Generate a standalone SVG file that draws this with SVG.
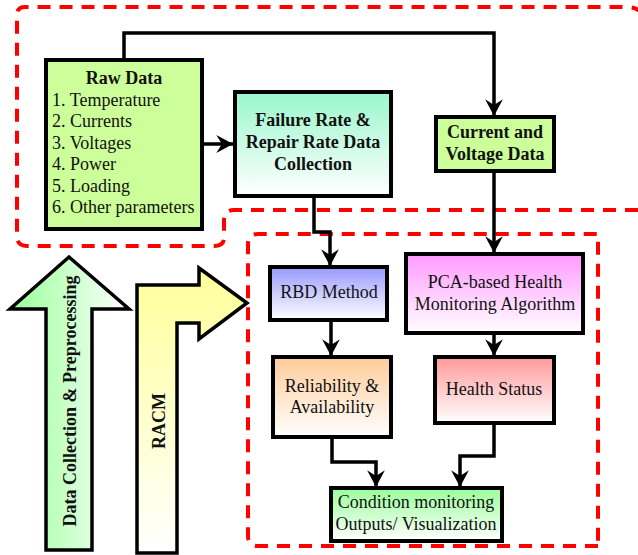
<svg xmlns="http://www.w3.org/2000/svg" width="638" height="555" viewBox="0 0 638 555">
<style>
.box{stroke:#000;stroke-width:4}
.t{font-family:'Liberation Serif',serif;font-size:18px;fill:#111}
.b{font-weight:bold}
.c{text-anchor:middle}
.con{fill:none;stroke:#000;stroke-width:3.5}
.dash{fill:none;stroke:#ff0000;stroke-width:4;stroke-dasharray:13 9}
</style>
<defs>
<marker id="ah" markerUnits="userSpaceOnUse" markerWidth="20" markerHeight="20" viewBox="-16 -9 18 18" refX="0" refY="0" orient="auto">
<path d="M0,0 L-15,-8 L-10,0 L-15,8 Z" fill="#000"/>
</marker>
<linearGradient id="gFail" x1="0" y1="0" x2="0" y2="1"><stop offset="0" stop-color="#99f7cc"/><stop offset="1" stop-color="#ffffff"/></linearGradient>
<linearGradient id="gRbd" x1="0" y1="0" x2="0" y2="1"><stop offset="0" stop-color="#9999ff"/><stop offset="1" stop-color="#ffffff"/></linearGradient>
<linearGradient id="gPca" x1="0" y1="0" x2="0" y2="1"><stop offset="0" stop-color="#ff99ff"/><stop offset="1" stop-color="#ffffff"/></linearGradient>
<linearGradient id="gRel" x1="0" y1="0" x2="0" y2="1"><stop offset="0" stop-color="#ffcc99"/><stop offset="1" stop-color="#ffffff"/></linearGradient>
<linearGradient id="gHs" x1="0" y1="0" x2="0" y2="1"><stop offset="0" stop-color="#ff9999"/><stop offset="1" stop-color="#ffffff"/></linearGradient>
<linearGradient id="gCond" x1="0" y1="0" x2="0" y2="1"><stop offset="0" stop-color="#99ff99"/><stop offset="1" stop-color="#ffffff"/></linearGradient>
<linearGradient id="gDc" x1="0" y1="0" x2="1" y2="0"><stop offset="0" stop-color="#99ff99"/><stop offset="1" stop-color="#ffffff"/></linearGradient>
<linearGradient id="gRacm" x1="0" y1="0" x2="0" y2="1"><stop offset="0" stop-color="#ffff99"/><stop offset="1" stop-color="#ffffff"/></linearGradient>
</defs>
<rect width="638" height="555" fill="#fff"/>

<g id="regions">
<path class="dash" d="M638,210 L234,210 Q224,210 224,220 L224,238 Q224,246 214,246 L27,246 Q17,246 17,236 L17,15 Q17,7 25,7 L626,7 Q645,7 645,25 L645,200"/>
<path class="dash" d="M598,546 L258,546 Q248,546 248,536 L248,244 Q248,234 258,234 L598,234 L598,546"/>
</g>

<g id="bigArrows" font-family="Liberation Serif, serif">
<g id="dataCollectionArrow">
<path d="M46,550 L46,309 L10,309 L69,257 L129,309 L92,309 L92,550 Z" fill="url(#gDc)" stroke="#000" stroke-width="3.5"/>
<text class="t b c" transform="translate(76,401) rotate(-90)">Data Collection &amp; Preprocessing</text>
</g>
<g id="racmArrow">
<path d="M137,553 L137,285 L199,285 L199,268 L247,303 L199,339 L199,323 L177,323 L177,553 Z" fill="url(#gRacm)" stroke="#000" stroke-width="3.5"/>
<text class="t b c" transform="translate(165,421) rotate(-90)">RACM</text>
</g>
</g>

<g id="connectors">
<path class="con" d="M124,60 L124,33 L494,33 L494,116" marker-end="url(#ah)"/>
<path class="con" d="M202,144 L233,144" marker-end="url(#ah)"/>
<path class="con" d="M314,196 L314,232 L330,232 L330,266" marker-end="url(#ah)"/>
<path class="con" d="M494,171 L494,253" marker-end="url(#ah)"/>
<path class="con" d="M331,320 L331,356" marker-end="url(#ah)"/>
<path class="con" d="M494,333 L494,356" marker-end="url(#ah)"/>
<path class="con" d="M332,437 L332,462 L376,462 L376,487" marker-end="url(#ah)"/>
<path class="con" d="M494,423 L494,456 L460,456 L460,487" marker-end="url(#ah)"/>
</g>

<g id="rawData" font-family="Liberation Serif, serif">
<rect class="box" x="46" y="60" width="156" height="169" fill="#ccff99"/>
<text class="t b c" x="124" y="84">Raw Data</text>
<text class="t" x="52" y="106">1. Temperature</text>
<text class="t" x="52" y="127">2. Currents</text>
<text class="t" x="52" y="149">3. Voltages</text>
<text class="t" x="52" y="170">4. Power</text>
<text class="t" x="52" y="192">5. Loading</text>
<text class="t" x="52" y="213">6. Other parameters</text>
</g>

<g id="failureRate">
<rect class="box" x="235" y="92" width="156" height="104" fill="url(#gFail)"/>
<text class="t b c" x="313" y="126">Failure Rate &amp;</text>
<text class="t b c" x="313" y="148">Repair Rate Data</text>
<text class="t b c" x="313" y="170">Collection</text>
</g>

<g id="currentVoltage">
<rect class="box" x="436" y="117" width="118" height="54" fill="#ccff99"/>
<text class="t b c" x="495" y="138">Current and</text>
<text class="t b c" x="495" y="160">Voltage Data</text>
</g>

<g id="rbd">
<rect class="box" x="270" y="267" width="117" height="53" fill="url(#gRbd)"/>
<text class="t c" x="329" y="298">RBD Method</text>
</g>

<g id="pca">
<rect class="box" x="406" y="254" width="177" height="79" fill="url(#gPca)"/>
<text class="t c" x="495" y="288">PCA-based Health</text>
<text class="t c" x="495" y="310">Monitoring Algorithm</text>
</g>

<g id="reliability">
<rect class="box" x="273" y="357" width="118" height="80" fill="url(#gRel)"/>
<text class="t c" x="332" y="392">Reliability &amp;</text>
<text class="t c" x="332" y="413">Availability</text>
</g>

<g id="healthStatus">
<rect class="box" x="435" y="357" width="119" height="66" fill="url(#gHs)"/>
<text class="t c" x="494" y="395">Health Status</text>
</g>

<g id="conditionMonitoring">
<rect class="box" x="331" y="488" width="171" height="53" fill="url(#gCond)"/>
<text class="t c" x="416" y="508">Condition monitoring</text>
<text class="t c" x="416" y="530">Outputs/ Visualization</text>
</g>
</svg>
